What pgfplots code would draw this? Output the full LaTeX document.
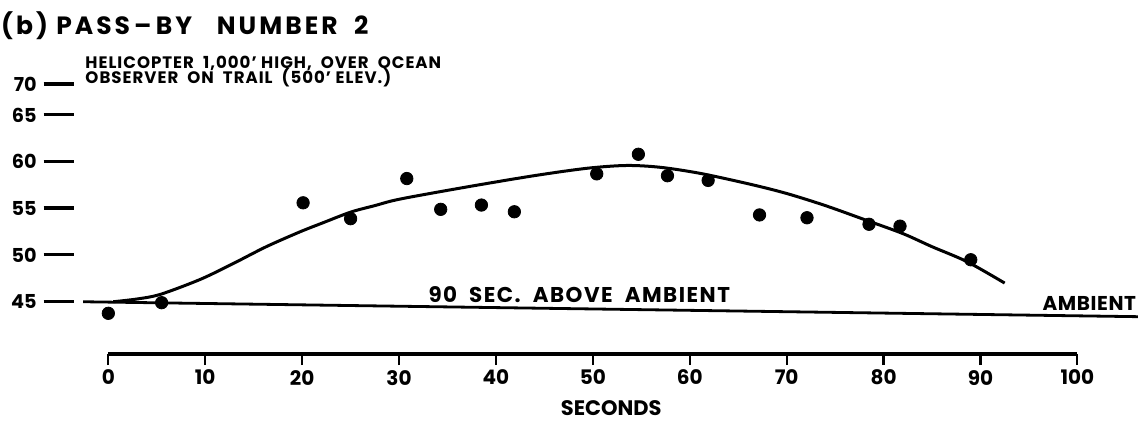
\documentclass[border=0pt]{standalone}
\usepackage{fontspec}
\setmainfont{Poppins}
\usepackage{pgfplots}
\pgfplotsset{compat=1.18}
\newcommand{\ylabdash}{\hspace{3.5pt}\rule[0.3em]{15pt}{1.6pt}}
\begin{document}
\begin{tikzpicture}[font=\bfseries]
\begin{axis}[
  x=4.845pt, y=4.6667pt,
  xmin=-3.44, xmax=106.26, ymin=39.4, ymax=77.33,
  enlargelimits=false, clip=false,
  axis x line*=bottom, axis y line*=left,
  axis line style={draw=none},
  xtick={0,10,...,100},
  ytick={45,50,55,60,65,68.3},
  yticklabels={45\ylabdash,50\ylabdash,55\ylabdash,60\ylabdash,65\ylabdash,70\ylabdash},
  tick align=outside,
  major tick length=5.5pt,
  x tick style={line width=1.1pt, black},
  y tick style={draw=none},
  xticklabel style={font=\bfseries\fontsize{10}{12}\selectfont, yshift=1pt},
  yticklabel style={font=\bfseries\fontsize{9.6}{12}\selectfont, anchor=east, inner sep=0pt, xshift=5pt},
  /pgf/number format/assume math mode=true,
]
% ambient line
\addplot[black, line width=1.4pt] coordinates {(-2.6,45) (106.26,43.4)};
% x axis baseline
\addplot[black, line width=1.9pt] coordinates {(0,39.4) (100,39.4)};
% fitted curve
\addplot[black, line width=1.5pt, smooth, tension=0.5] coordinates {
 (0.5,45.0) (3,45.3) (5.4,45.8) (9.5,47.4) (12.9,49.1) (16.3,50.9) (19.8,52.5)
 (22,53.4) (25,54.6) (27.5,55.3) (30.1,56.0) (37,57.3) (43.9,58.5) (49.4,59.3)
 (53.5,59.6) (57,59.4) (61.1,58.75) (66.2,57.6) (70,56.6) (74,55.3)
 (78.3,53.7) (82,52.3) (85,50.9) (88.6,49.3) (92.5,47.0)};
% measured points
\addplot[only marks, mark=*, mark size=3.1pt, black] coordinates {
 (0,43.76) (5.5,44.9) (20.1,55.6) (25.0,53.9) (30.8,58.2) (34.3,54.9)
 (38.5,55.36) (41.9,54.64) (50.4,58.7) (54.7,60.8) (57.7,58.5) (61.9,58.0)
 (67.2,54.3) (72.1,54.0) (78.5,53.3) (81.7,53.1) (89.0,49.5)};
\node[anchor=base west, inner sep=0pt, font=\bfseries\fontsize{12.5}{14}\selectfont\addfontfeature{LetterSpace=12}] at (axis cs:-11.1,73.6) {(b)\ PASS\,--\,BY\ \ \ NUMBER\ \ 2};
\node[anchor=base west, inner sep=0pt, font=\bfseries\fontsize{8.3}{9}\selectfont\addfontfeature{LetterSpace=6}] at (axis cs:-2.4,70.0) {HELICOPTER\ \ 1,000' HIGH,\ \ OVER\ \ OCEAN};
\node[anchor=base west, inner sep=0pt, font=\bfseries\fontsize{8.3}{9}\selectfont\addfontfeature{LetterSpace=6}] at (axis cs:-2.4,68.4) {OBSERVER\ \ ON\ \ TRAIL\ \ (500' ELEV.)};
\node[anchor=base west, inner sep=0pt, font=\bfseries\fontsize{10.7}{12}\selectfont\addfontfeature{LetterSpace=7}] at (axis cs:33.0,44.95) {90\ \ SEC.\ \ ABOVE\ \ AMBIENT};
\node[anchor=base east, inner sep=0pt, font=\bfseries\fontsize{10}{12}\selectfont\addfontfeature{LetterSpace=3}] at (axis cs:106.1,44.1) {AMBIENT};
\node[anchor=base, inner sep=0pt, font=\bfseries\fontsize{10.5}{12}\selectfont] at (axis cs:51.9,32.86) {SECONDS};
\end{axis}
\pgfresetboundingbox
\path[use as bounding box] ([xshift=-37.5pt,yshift=-33.5pt]current axis.south west) rectangle (current axis.north east);
\end{tikzpicture}
\end{document}
